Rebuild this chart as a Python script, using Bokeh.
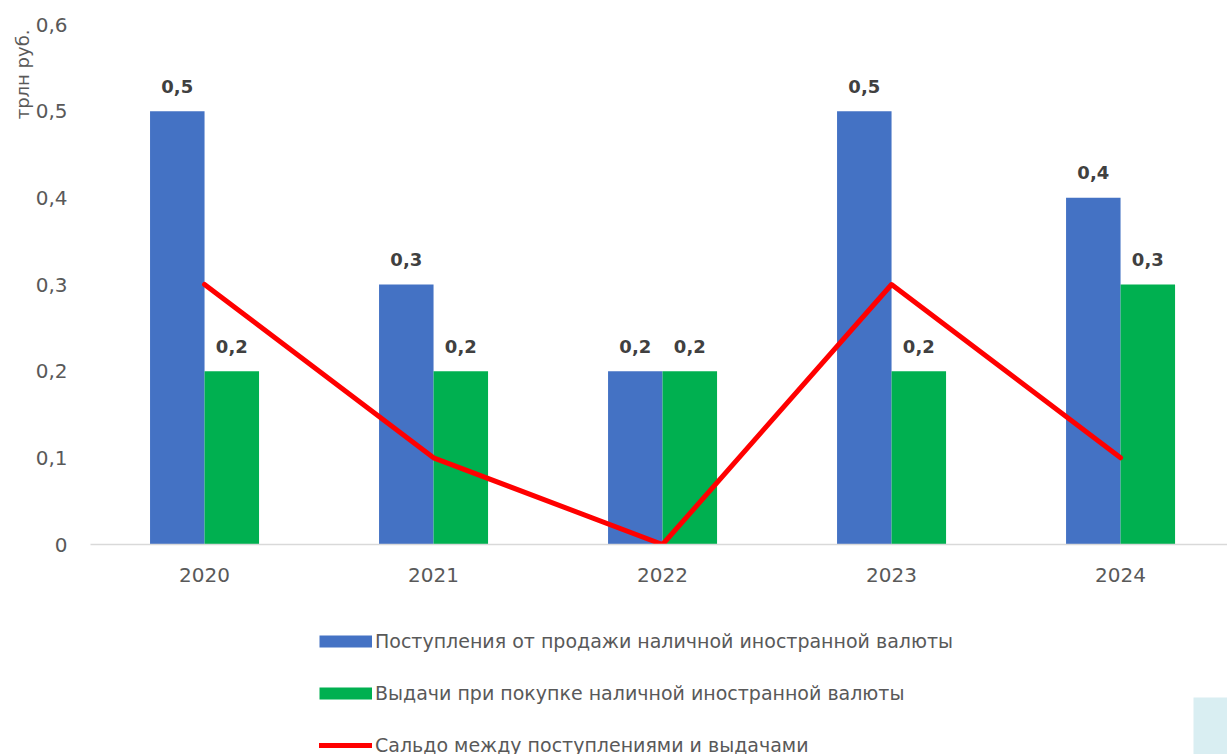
from bokeh.plotting import figure
from bokeh.layouts import column
from bokeh.models import (Range1d, FixedTicker, CustomJSTickFormatter, Legend, LegendItem,
                          Title, ColumnDataSource, BoxAnnotation)
from bokeh.transform import dodge
from bokeh.core.properties import value
from bokeh.embed import file_html
from bokeh.resources import INLINE

# ---- data ----
years = ["2020", "2021", "2022", "2023", "2024"]
inflow = [0.5, 0.3, 0.2, 0.5, 0.4]      # Поступления от продажи
outflow = [0.2, 0.2, 0.2, 0.2, 0.3]     # Выдачи при покупке
balance = [0.3, 0.1, 0.0, 0.3, 0.1]     # Сальдо
y_ticks = [0.0, 0.1, 0.2, 0.3, 0.4, 0.5, 0.6]
series_names = ["Поступления от продажи наличной иностранной валюты",
                "Выдачи при покупке наличной иностранной валюты",
                "Сальдо между поступлениями и выдачами"]
y_title = "трлн руб."

BLUE = "#4472C4"
GREEN = "#00B050"
RED = "#FF0000"
TXT = "#595959"
FONT = "DejaVu Sans"


def fmt(v):
    return f"{v:.1f}".replace(".", ",")


src = ColumnDataSource(dict(
    x=list(range(len(years))),
    inflow=inflow, outflow=outflow, balance=balance,
    inflow_lbl=[fmt(v) for v in inflow],
    outflow_lbl=[fmt(v) for v in outflow],
))

p = figure(width=1227, height=600, output_backend="svg", toolbar_location=None,
           x_range=Range1d(-0.498, 4.467), y_range=Range1d(0, 0.6),
           min_border_left=90, min_border_right=0, min_border_top=24, min_border_bottom=56)
p.outline_line_color = None
p.xgrid.visible = False
p.ygrid.visible = False
p.background_fill_color = "white"
p.border_fill_color = "white"

BW = 0.238
p.vbar(x=dodge("x", -BW / 2, range=p.x_range), top="inflow", width=BW, source=src,
       fill_color=BLUE, line_color=None)
p.vbar(x=dodge("x", BW / 2, range=p.x_range), top="outflow", width=BW, source=src,
       fill_color=GREEN, line_color=None)
p.line(x="x", y="balance", source=src, line_color=RED, line_width=5,
       line_join="round", line_cap="round")

for col, lbl, off in (("inflow", "inflow_lbl", -BW / 2), ("outflow", "outflow_lbl", BW / 2)):
    p.text(x=dodge("x", off, range=p.x_range), y=col, text=lbl, source=src,
           text_align="center", text_baseline="middle", y_offset=-25,
           text_font=value(FONT), text_font_style="bold", text_font_size="18px",
           text_color="#404040")

# axes
p.xaxis.ticker = FixedTicker(ticks=list(range(len(years))))
p.xaxis.formatter = CustomJSTickFormatter(args=dict(years=years),
                                          code="return years[Math.round(tick)] || '';")
p.xaxis.major_tick_line_color = None
p.xaxis.minor_tick_line_color = None
p.xaxis.axis_line_color = "#D9D9D9"
p.xaxis.axis_line_width = 1.5
p.xaxis.major_label_standoff = 17
p.xaxis.major_label_text_font = FONT
p.xaxis.major_label_text_font_size = "20px"
p.xaxis.major_label_text_color = TXT

p.yaxis.ticker = FixedTicker(ticks=y_ticks)
p.yaxis.formatter = CustomJSTickFormatter(
    code="return Math.abs(tick) < 1e-9 ? '0' : tick.toFixed(1).replace('.', ',');")
p.yaxis.major_tick_line_color = None
p.yaxis.minor_tick_line_color = None
p.yaxis.axis_line_color = None
p.yaxis.major_label_standoff = 17
p.yaxis.major_label_text_font = FONT
p.yaxis.major_label_text_font_size = "20px"
p.yaxis.major_label_text_color = TXT

p.add_layout(Title(text=y_title, align="right", text_font=FONT, text_font_size="18px",
                   text_font_style="normal", text_color=TXT, standoff=0, offset=5), "left")

# legend panel below the chart (its frame is aligned with the chart frame)
lg = figure(width=1227, height=154, output_backend="svg", toolbar_location=None,
            x_range=Range1d(-0.498, 4.467), y_range=Range1d(10, 11),
            x_axis_location=None, y_axis_location=None,
            min_border_left=0, min_border_right=0, min_border_top=0, min_border_bottom=0)
lg.outline_line_color = None
lg.xgrid.visible = False
lg.ygrid.visible = False
# legend swatch renderers (their data lies outside this panel's range, only swatches show)
leg_blue = lg.line(x="x", y="inflow", source=src, line_color=BLUE, line_width=12, line_cap="butt")
leg_green = lg.line(x="x", y="outflow", source=src, line_color=GREEN, line_width=12, line_cap="butt")
leg_red = lg.line(x="x", y="balance", source=src, line_color=RED, line_width=5, line_cap="round")
legend = Legend(items=[LegendItem(label=series_names[0], renderers=[leg_blue]),
                       LegendItem(label=series_names[1], renderers=[leg_green]),
                       LegendItem(label=series_names[2], renderers=[leg_red])],
                location=(229, -2), orientation="vertical",
                spacing=30, glyph_width=53, glyph_height=20, label_height=20,
                label_standoff=3, padding=0, margin=0,
                border_line_alpha=0, background_fill_alpha=0,
                label_text_font=FONT, label_text_font_size="19px", label_text_color=TXT)
lg.add_layout(legend, "center")

lg.add_layout(BoxAnnotation(left=1103, right=1200, bottom=0, top=57,
                            left_units="screen", right_units="screen",
                            bottom_units="screen", top_units="screen",
                            fill_color="#D9EEF2", fill_alpha=1, line_color=None))

open("out.html", "w").write(file_html(column(p, lg), INLINE))
